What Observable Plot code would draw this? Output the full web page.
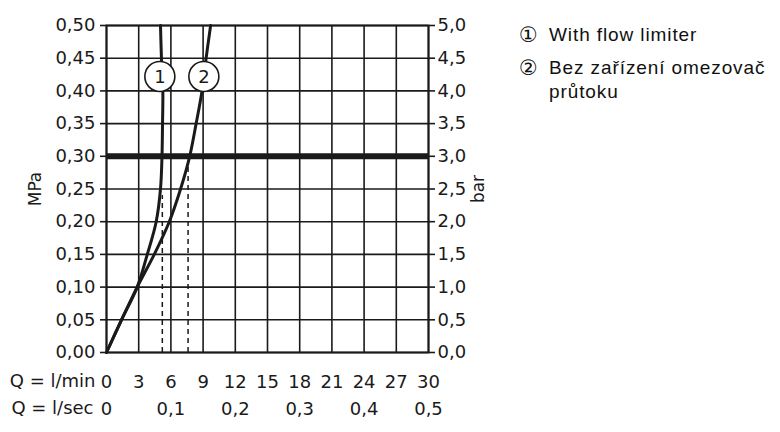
<!DOCTYPE html>
<html>
<head>
<meta charset="utf-8">
<script src="https://cdn.jsdelivr.net/npm/d3@7"></script>
<script src="https://cdn.jsdelivr.net/npm/@observablehq/plot@0.6"></script>
<style>
  html, body { margin: 0; padding: 0; background: #fff; }
  #wrap { position: relative; width: 780px; height: 432px; overflow: hidden; }
  #legend { position: absolute; left: 519px; top: 23px; font-family: "Liberation Sans", Arial, sans-serif; font-size: 19px; letter-spacing: 0.9px; color: #111; line-height: 24px; }
  #legend .row { display: flex; margin-bottom: 8.6px; }
  #legend .sym { width: 30px; flex: none; font-family: "DejaVu Sans", sans-serif; font-size: 21px; letter-spacing: 0; }
</style>
</head>
<body>
<div id="wrap">
  <div id="chart"></div>
  <div id="legend"></div>
</div>
<script>
// Flow Q in l/min, pressure in MPa
const curve1Q = [0, 1.4, 2.86, 3.8, 4.63, 5.03, 5.17, 5.22, 5.25, 5.12, 5.03];
const curve1P = [0, 0.05, 0.10, 0.15, 0.20, 0.25, 0.30, 0.35, 0.40, 0.45, 0.50];
const curve2Q = [0, 1.4, 2.86, 4.45, 5.85, 6.9, 7.75, 8.35, 8.9, 9.28, 9.7];
const curve2P = [0, 0.05, 0.10, 0.15, 0.20, 0.25, 0.30, 0.35, 0.40, 0.45, 0.50];
const dashQ = [5.2, 7.6];
const dashTopP = [0.24, 0.29];
const limitP = [0.30];
const markerNames = ["1", "2"];
const markerQ = [4.97, 9.07];
const markerP = [0.422, 0.422];
const yTicks = [0, 0.05, 0.10, 0.15, 0.20, 0.25, 0.30, 0.35, 0.40, 0.45, 0.50];
const yTickLabels = ["0,00","0,05","0,10","0,15","0,20","0,25","0,30","0,35","0,40","0,45","0,50"];
const barTickLabels = ["0,0","0,5","1,0","1,5","2,0","2,5","3,0","3,5","4,0","4,5","5,0"];
const xTicks = [0, 3, 6, 9, 12, 15, 18, 21, 24, 27, 30];
const xTickLabels = ["0","3","6","9","12","15","18","21","24","27","30"];
const secTicks = [0, 6, 12, 18, 24, 30];
const secTickLabels = ["0","0,1","0,2","0,3","0,4","0,5"];
const legendSymbols = ["\u2460", "\u2461"];
const legendTexts = ["With flow limiter", "Bez zařízení omezovač<br>průtoku"];

const c1 = curve1Q.map((q, i) => ({q, p: curve1P[i]}));
const c2 = curve2Q.map((q, i) => ({q, p: curve2P[i]}));
const dashes = dashQ.map((q, i) => ({q, top: dashTopP[i]}));
const markers = markerNames.map((n, i) => ({n, q: markerQ[i], p: markerP[i]}));

const font = "DejaVu Sans, sans-serif";
const ink = "#1a1a1a";

const chart = Plot.plot({
  width: 780,
  height: 432,
  marginLeft: 106,
  marginRight: 352,
  marginTop: 25,
  marginBottom: 80,
  style: { fontFamily: font, fontSize: "18px", color: ink, background: "#fff" },
  x: { domain: [0, 30] },
  y: { domain: [0, 0.5] },
  marks: [
    Plot.gridX(xTicks, { stroke: ink, strokeOpacity: 1, strokeWidth: 1.6 }),
    Plot.gridY(yTicks, { stroke: ink, strokeOpacity: 1, strokeWidth: 1.6 }),
    Plot.ruleY(limitP, { stroke: ink, strokeWidth: 6 }),
    Plot.ruleX(dashes, { x: "q", y1: 0, y2: "top", stroke: ink, strokeWidth: 1.5, strokeDasharray: "5,4" }),
    Plot.line(c1, { x: "q", y: "p", curve: "catmull-rom", stroke: ink, strokeWidth: 3 }),
    Plot.line(c2, { x: "q", y: "p", curve: "catmull-rom", stroke: ink, strokeWidth: 3 }),
    Plot.frame({ stroke: ink, strokeWidth: 2 }),
    Plot.dot(markers, { x: "q", y: "p", r: 15, fill: "white", stroke: ink, strokeWidth: 1.6 }),
    Plot.text(markers, { x: "q", y: "p", text: "n", fontSize: 18, fill: ink, dy: 1 }),
    Plot.axisY(yTicks, { anchor: "left", tickSize: 6, tickPadding: 5, strokeWidth: 1.6, tickFormat: (d, i) => yTickLabels[i], label: null, fontSize: 18 }),
    Plot.axisY(yTicks, { anchor: "right", tickSize: 6, tickPadding: 3, strokeWidth: 1.6, tickFormat: (d, i) => barTickLabels[i], label: null, fontSize: 18 }),
    Plot.axisX(xTicks, { anchor: "bottom", tickSize: 0, tickPadding: 23, tickFormat: (d, i) => xTickLabels[i], label: null, fontSize: 18 }),
    Plot.axisX(secTicks, { anchor: "bottom", tickSize: 0, tickPadding: 50, tickFormat: (d, i) => secTickLabels[i], label: null, fontSize: 18 }),
    Plot.text(["MPa"], { frameAnchor: "left", text: d => d, rotate: -90, dx: -71, lineAnchor: "middle", textAnchor: "middle", fontSize: 17, fill: ink }),
    Plot.text(["bar"], { frameAnchor: "right", text: d => d, rotate: -90, dx: 50, lineAnchor: "middle", textAnchor: "middle", fontSize: 17, fill: ink }),
    Plot.text(["Q = l/min"], { frameAnchor: "bottom-left", text: d => d, dx: -11, dy: 29, textAnchor: "end", lineAnchor: "middle", fontSize: 18, fill: ink }),
    Plot.text(["Q = l/sec"], { frameAnchor: "bottom-left", text: d => d, dx: -13, dy: 56, textAnchor: "end", lineAnchor: "middle", fontSize: 18, fill: ink })
  ]
});
document.getElementById("chart").appendChild(chart);

const legend = document.getElementById("legend");
legend.innerHTML = legendSymbols.map((s, i) =>
  `<div class="row"><span class="sym">${s}</span><span>${legendTexts[i]}</span></div>`
).join("");
</script>
</body>
</html>
